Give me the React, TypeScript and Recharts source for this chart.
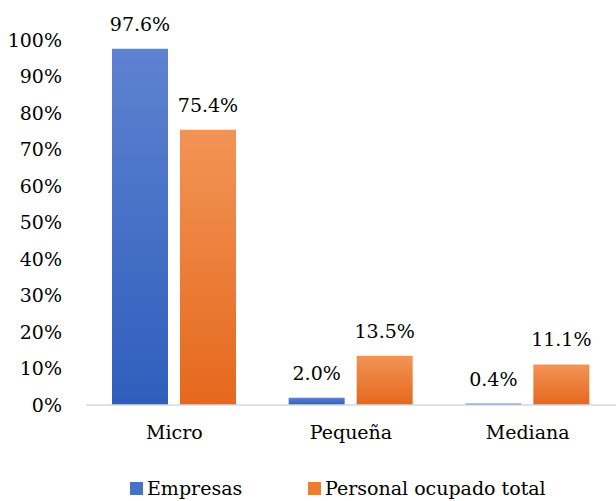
import React from 'react';
import { BarChart, Bar, XAxis, YAxis, LabelList } from 'recharts';

const categories = ['Micro', 'Pequeña', 'Mediana'];
const empresas = [97.6, 2.0, 0.4];
const personal = [75.4, 13.5, 11.1];
const yTicks = [0, 10, 20, 30, 40, 50, 60, 70, 80, 90, 100];

const data = categories.map((name, i) => ({ name, empresas: empresas[i], personal: personal[i] }));

const font = "'DejaVu Serif', serif";
const fs = 19;

const pct = (v: any) => `${Number(v).toFixed(1)}%`;

function LegendItem({ color, label, left }: { color: string; label: string; left: number }) {
  return (
    <div style={{ position: 'absolute', left, top: 477, display: 'flex', alignItems: 'center', fontFamily: font, fontSize: fs, color: '#000', whiteSpace: 'nowrap' }}>
      <span style={{ display: 'inline-block', width: 13, height: 13, background: color, marginRight: 4 }} />
      <span>{label}</span>
    </div>
  );
}

export default function App() {
  return (
    <div style={{ position: 'absolute', left: 0, top: 0, width: 616, height: 501, background: '#fff' }}>
      <BarChart
        width={616}
        height={501}
        data={data}
        margin={{ top: 40, right: 0, left: 0, bottom: 46 }}
        barGap={12}
        barSize={56}
      >
        <defs>
          <linearGradient id="gBlue" x1="0" y1="0" x2="0" y2="1">
            <stop offset="0%" stopColor="#5e82d0" />
            <stop offset="100%" stopColor="#2f5ebd" />
          </linearGradient>
          <linearGradient id="gOrange" x1="0" y1="0" x2="0" y2="1">
            <stop offset="0%" stopColor="#f29456" />
            <stop offset="100%" stopColor="#e5681c" />
          </linearGradient>
        </defs>
        <XAxis
          dataKey="name"
          tickLine={false}
          axisLine={{ stroke: '#d9d9d9', strokeWidth: 1.5 }}
          tick={{ fill: '#000', fontSize: fs, fontFamily: font }}
          tickMargin={15}
          height={50}
        />
        <YAxis
          domain={[0, 100]}
          ticks={yTicks}
          interval={0}
          tickFormatter={(v) => `${v}%`}
          tickLine={false}
          axisLine={false}
          tick={{ fill: '#000', fontSize: fs, fontFamily: font }}
          tickMargin={24}
          tickSize={0}
          width={86}
        />
        <Bar dataKey="empresas" name="Empresas" fill="url(#gBlue)" isAnimationActive={false}>
          <LabelList dataKey="empresas" position="top" offset={18} formatter={pct} fontFamily={font} fill="#000" fontSize={fs} />
        </Bar>
        <Bar dataKey="personal" name="Personal ocupado total" fill="url(#gOrange)" isAnimationActive={false}>
          <LabelList dataKey="personal" position="top" offset={18} formatter={pct} fontFamily={font} fill="#000" fontSize={fs} />
        </Bar>
      </BarChart>
      <LegendItem color="#4472c4" label="Empresas" left={130} />
      <LegendItem color="#ed7d31" label="Personal ocupado total" left={308} />
    </div>
  );
}
